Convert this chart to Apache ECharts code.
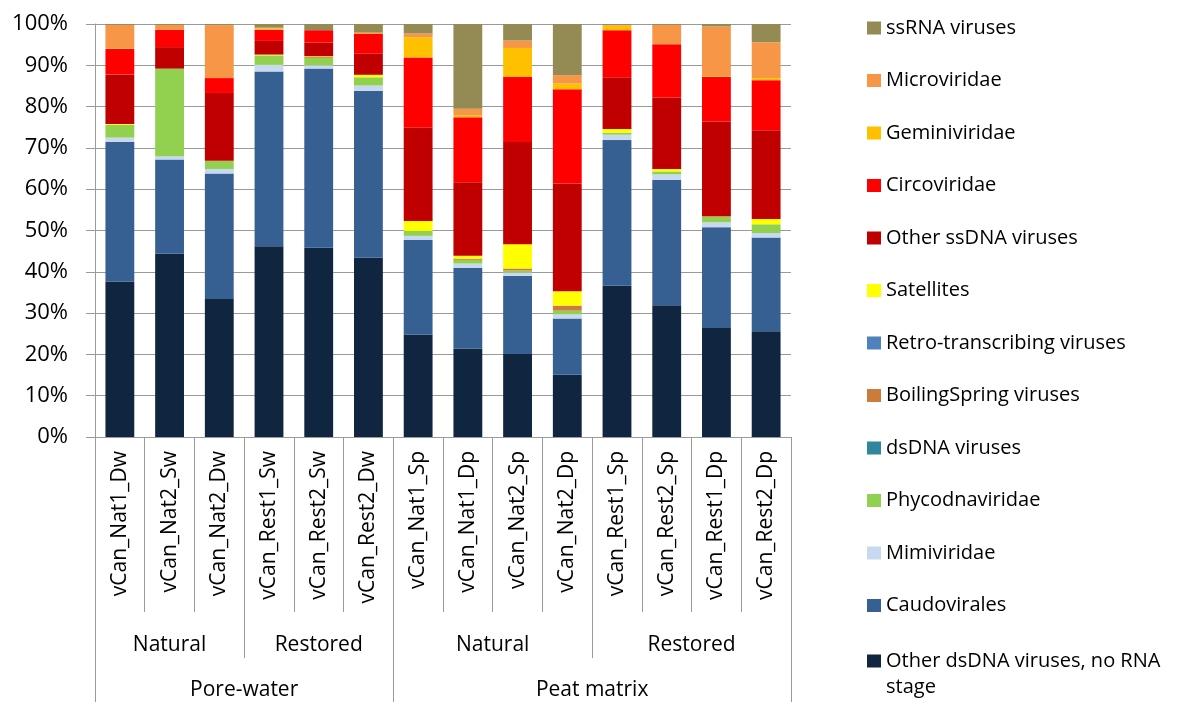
<!DOCTYPE html>
<html>
<head>
<meta charset="utf-8">
<title>Viral community composition</title>
<script src="https://cdn.jsdelivr.net/npm/echarts@6/dist/echarts.min.js"></script>
<style>
  html, body { margin: 0; padding: 0; background: #ffffff; }
  #chart { width: 1180px; height: 702px; }
</style>
</head>
<body>
<div id="chart"></div>
<script>
// Samples along the x axis (left to right)
const samples = [
  'vCan_Nat1_Dw', 'vCan_Nat2_Sw', 'vCan_Nat2_Dw', 'vCan_Rest1_Sw', 'vCan_Rest2_Sw', 'vCan_Rest2_Dw',
  'vCan_Nat1_Sp', 'vCan_Nat1_Dp', 'vCan_Nat2_Sp', 'vCan_Nat2_Dp',
  'vCan_Rest1_Sp', 'vCan_Rest2_Sp', 'vCan_Rest1_Dp', 'vCan_Rest2_Dp'
];

// Grouping levels below the sample names
const siteGroups = ['Natural', 'Restored', 'Natural', 'Restored'];
const siteGroupSizes = [3, 3, 4, 4];
const compartments = ['Pore-water', 'Peat matrix'];
const compartmentSizes = [6, 8];

// Relative abundance (%) per viral group, stacked from the bottom up
const otherDsDNA      = [37.6, 44.4, 33.4, 46.2, 45.8, 43.4, 24.8, 21.4, 20.1, 15.1, 36.6, 31.9, 26.4, 25.6];
const caudovirales    = [33.9, 22.8, 30.4, 42.3, 43.4, 40.4, 22.9, 19.6, 18.9, 13.6, 35.3, 30.4, 24.4, 22.7];
const mimiviridae     = [1.0, 0.8, 1.1, 1.6, 0.8, 1.3, 1.0, 1.0, 0.8, 1.0, 1.3, 1.3, 1.2, 1.1];
const phycodnaviridae = [3.1, 21.2, 2.0, 2.3, 1.8, 2.0, 1.2, 0.9, 0.5, 0.9, 0.5, 0.7, 1.3, 2.1];
const dsDNAViruses    = [0, 0, 0, 0, 0, 0, 0, 0, 0, 0, 0, 0, 0, 0];
const boilingSpring   = [0, 0, 0, 0, 0.2, 0, 0, 0.3, 0.5, 1.2, 0, 0, 0.2, 0];
const retroViruses    = [0, 0, 0, 0, 0, 0, 0, 0, 0, 0, 0, 0, 0, 0];
const satellites      = [0.2, 0, 0, 0.2, 0.2, 0.6, 2.4, 0.7, 5.9, 3.5, 0.9, 0.6, 0, 1.3];
const otherSsDNA      = [12.0, 5.2, 16.4, 3.3, 3.3, 5.2, 22.6, 17.8, 24.7, 26.1, 12.5, 17.3, 22.9, 21.5];
const circoviridae    = [6.2, 4.2, 3.6, 2.7, 3.0, 4.8, 17.0, 15.7, 15.8, 22.8, 11.4, 12.9, 10.8, 12.1];
const geminiviridae   = [0.1, 0, 0, 0.3, 0, 0.2, 4.9, 0.5, 7.0, 1.4, 1.1, 0, 0.2, 0.5];
const microviridae    = [5.7, 1.2, 12.8, 0.2, 0, 0, 0.9, 1.6, 1.8, 2.0, 0.2, 4.7, 12.0, 8.7];
const ssRNAViruses    = [0.2, 0.2, 0.3, 0.9, 1.5, 2.1, 2.3, 20.5, 4.0, 12.4, 0.2, 0.2, 0.6, 4.4];

const yTicks = [0, 10, 20, 30, 40, 50, 60, 70, 80, 90, 100];

const seriesDefs = [
  { name: 'Other dsDNA viruses, no RNA stage', data: otherDsDNA,      color: '#10253F' },
  { name: 'Caudovirales',                      data: caudovirales,    color: '#376092' },
  { name: 'Mimiviridae',                       data: mimiviridae,     color: '#C6D9F1' },
  { name: 'Phycodnaviridae',                   data: phycodnaviridae, color: '#92D050' },
  { name: 'dsDNA viruses',                     data: dsDNAViruses,    color: '#31859C' },
  { name: 'BoilingSpring viruses',             data: boilingSpring,   color: '#CD7B3A' },
  { name: 'Retro-transcribing viruses',        data: retroViruses,    color: '#4F81BD' },
  { name: 'Satellites',                        data: satellites,      color: '#FFFF00' },
  { name: 'Other ssDNA viruses',               data: otherSsDNA,      color: '#C00000' },
  { name: 'Circoviridae',                      data: circoviridae,    color: '#FF0000' },
  { name: 'Geminiviridae',                     data: geminiviridae,   color: '#FFC000' },
  { name: 'Microviridae',                      data: microviridae,    color: '#F79646' },
  { name: 'ssRNA viruses',                     data: ssRNAViruses,    color: '#948A54' }
];

// Boundaries and centres of each grouping level, in category units
function groupLayout(sizes) {
  const bounds = [0];
  const centres = [];
  sizes.forEach(s => {
    const start = bounds[bounds.length - 1];
    centres.push(start + s / 2);
    bounds.push(start + s);
  });
  return { bounds, centres };
}
const siteLayout = groupLayout(siteGroupSizes);
const compLayout = groupLayout(compartmentSizes);

const FONT = 'Open Sans';
const AXIS_GREY = '#9A9A9A';

function groupAxis(names, layout, tickLen, labelMargin) {
  return {
    type: 'value',
    position: 'bottom',
    gridIndex: 0,
    min: 0,
    max: samples.length,
    axisLine: { show: false },
    splitLine: { show: false },
    axisTick: {
      show: true,
      length: tickLen,
      customValues: layout.bounds,
      lineStyle: { color: AXIS_GREY, width: 1 }
    },
    axisLabel: {
      show: true,
      customValues: layout.centres,
      formatter: v => names[layout.centres.indexOf(v)],
      margin: labelMargin,
      fontFamily: FONT,
      fontSize: 21,
      lineHeight: 22,
      color: '#000'
    }
  };
}

const chart = echarts.init(document.getElementById('chart'), null, { renderer: 'canvas' });

// Legend: top-down order mirrors the stack; the long last entry wraps onto a second line
const legendNames = seriesDefs.slice().reverse().map(s => s.name);
const lastName = legendNames[legendNames.length - 1];
const LEGEND_TOP = 16;
const LEGEND_PITCH = 52.5;
const legendCommon = {
  orient: 'vertical',
  left: 867,
  width: 310,
  height: 900,
  padding: 0,
  itemWidth: 14,
  itemHeight: 13,
  itemGap: LEGEND_PITCH - 24,
  selectedMode: false,
  icon: 'rect',
  textStyle: { fontFamily: FONT, fontSize: 20, lineHeight: 24, color: '#000' }
};

chart.setOption({
  animation: false,
  backgroundColor: '#ffffff',
  grid: { left: 95, right: 389, top: 24, bottom: 265, containLabel: false },
  legend: [
    Object.assign({}, legendCommon, {
      top: LEGEND_TOP,
      data: legendNames.slice(0, -1)
    }),
    Object.assign({}, legendCommon, {
      top: LEGEND_TOP + (legendNames.length - 1) * LEGEND_PITCH - 24,
      data: [lastName],
      // leading blank line keeps the first text line level with the swatch
      formatter: () => '\nOther dsDNA viruses, no RNA\nstage',
      textStyle: { fontFamily: FONT, fontSize: 20, lineHeight: 26, color: '#000' }
    })
  ],
  xAxis: [
    {
      type: 'category',
      data: samples,
      position: 'bottom',
      boundaryGap: true,
      axisLine: { show: true, lineStyle: { color: AXIS_GREY, width: 1 } },
      axisTick: {
        show: true,
        interval: 0,
        alignWithLabel: false,
        length: 175,
        lineStyle: { color: AXIS_GREY, width: 1 }
      },
      axisLabel: {
        interval: 0,
        rotate: 90,
        margin: 14,
        fontFamily: FONT,
        fontSize: 21,
        color: '#000'
      }
    },
    groupAxis(siteGroups, siteLayout, 221, 197),
    groupAxis(compartments, compLayout, 265, 242)
  ],
  yAxis: {
    type: 'value',
    min: 0,
    max: 100,
    interval: 10,
    axisLine: { show: true, lineStyle: { color: AXIS_GREY, width: 1 } },
    axisTick: { show: true, length: 9, lineStyle: { color: AXIS_GREY, width: 1 } },
    splitLine: { show: true, lineStyle: { color: AXIS_GREY, width: 1 } },
    axisLabel: {
      margin: 27,
      fontFamily: FONT,
      fontSize: 22,
      color: '#000',
      formatter: v => yTicks.includes(v) ? v + '%' : ''
    }
  },
  series: seriesDefs.map(s => ({
    name: s.name,
    type: 'bar',
    stack: 'total',
    xAxisIndex: 0,
    barCategoryGap: '42%',
    data: s.data,
    itemStyle: { color: s.color },
    emphasis: { disabled: true }
  }))
});
</script>
</body>
</html>
